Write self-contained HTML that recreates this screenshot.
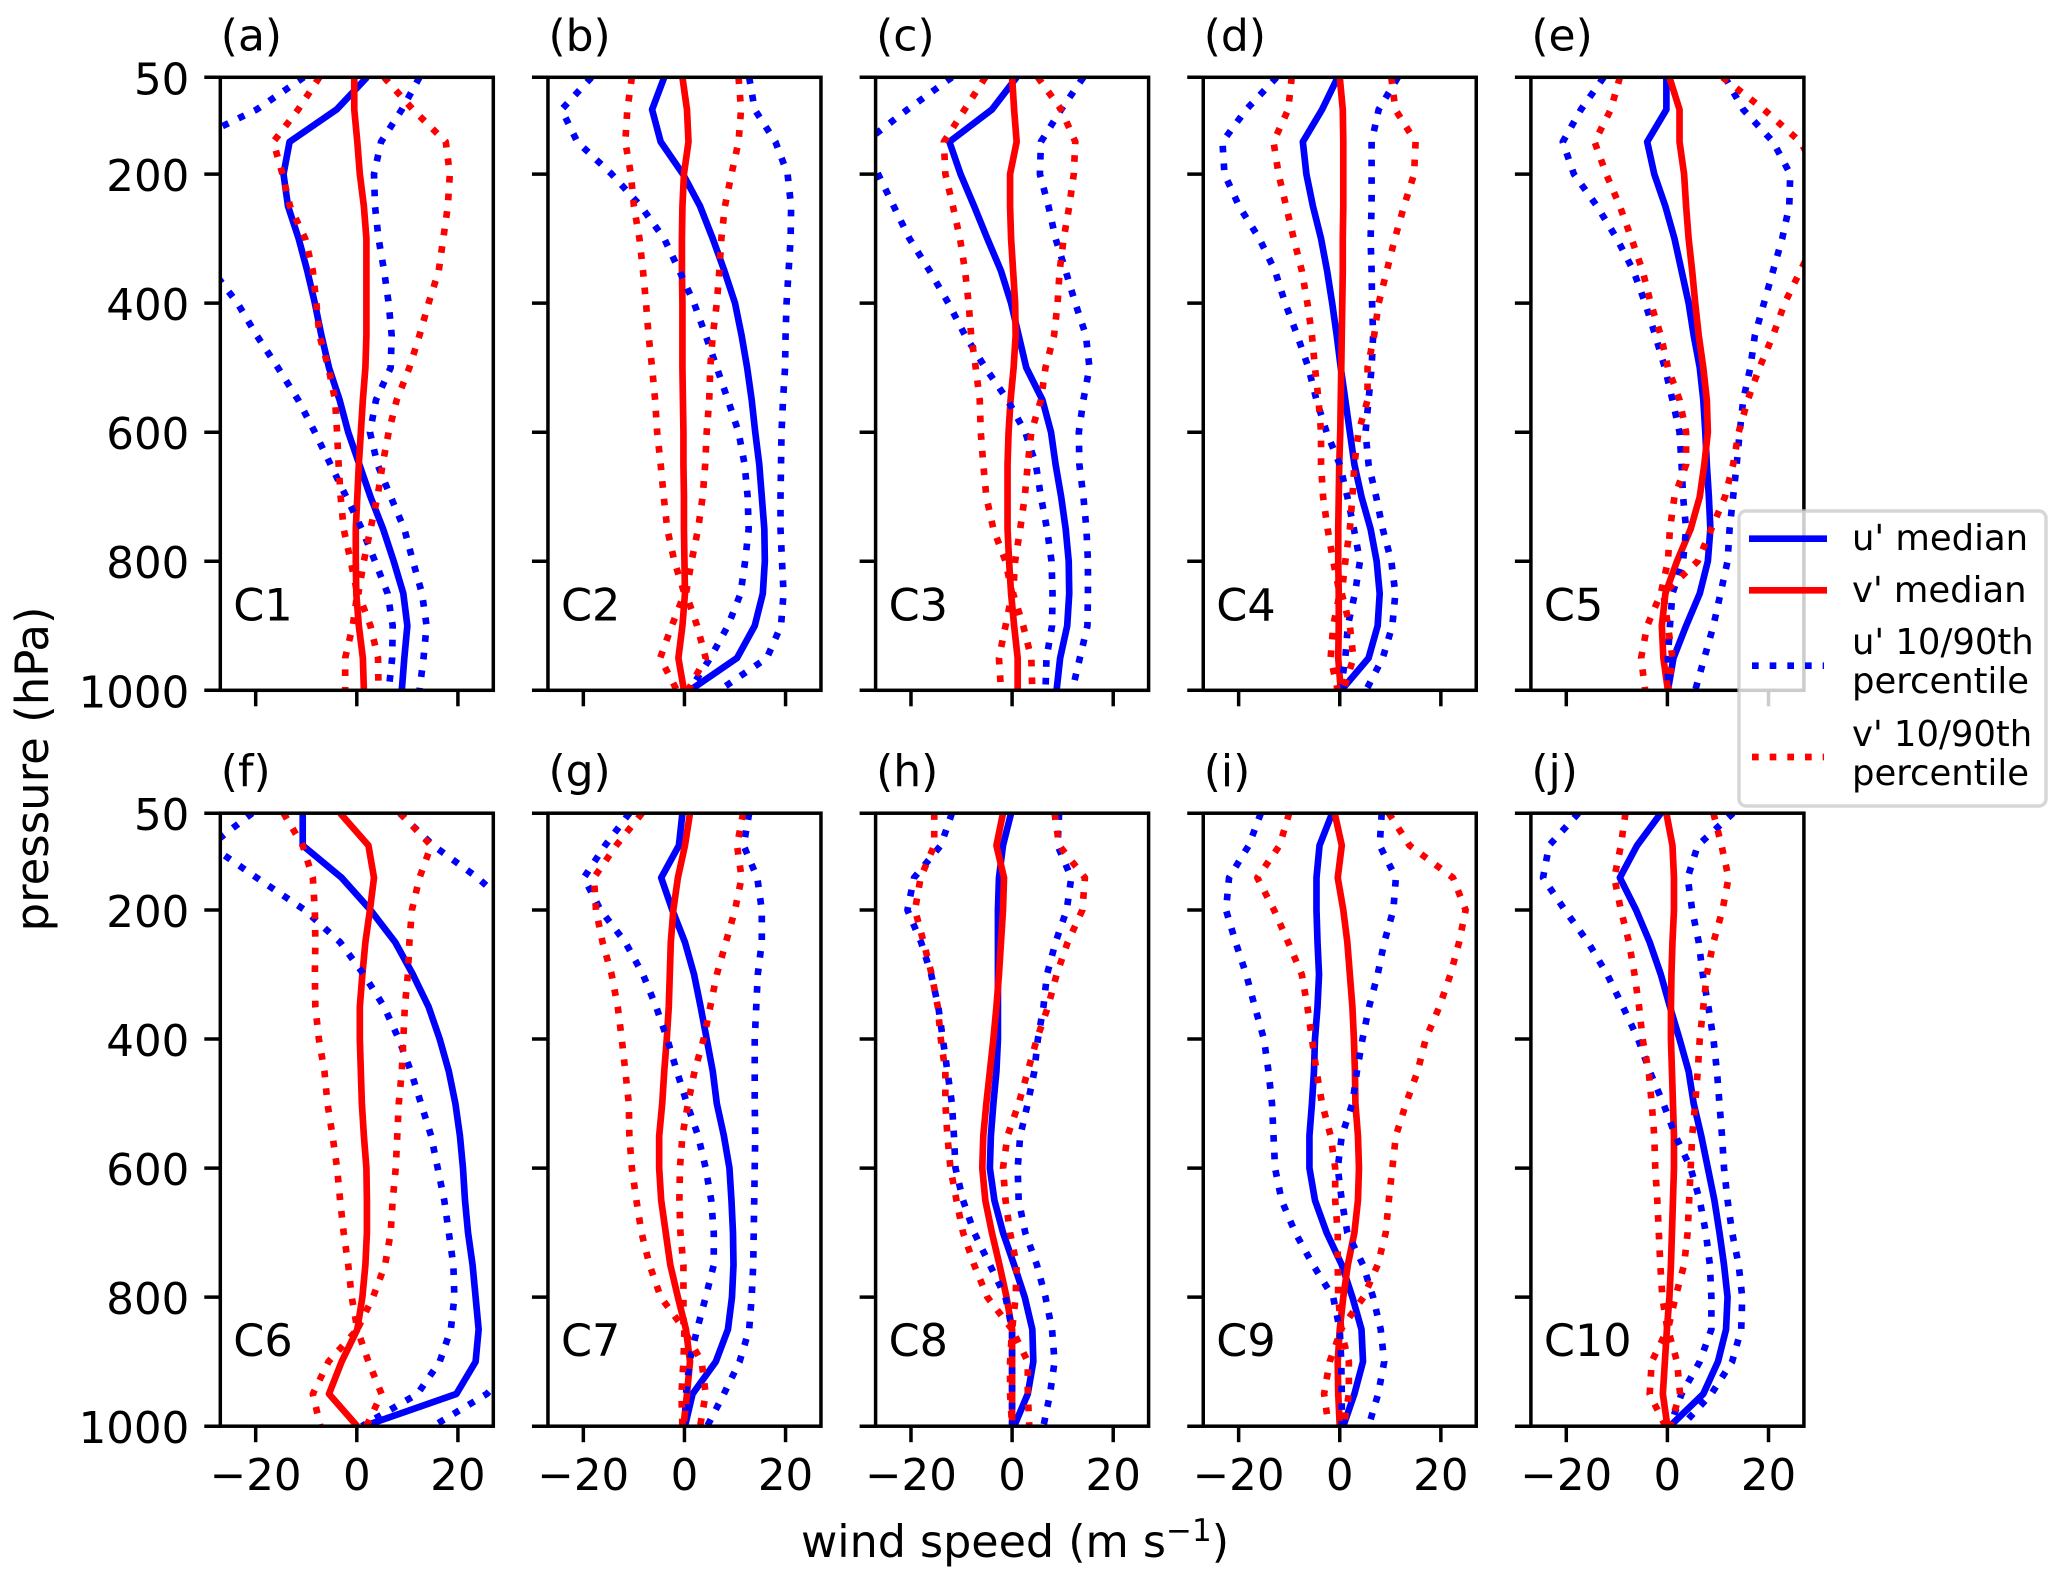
<!DOCTYPE html>
<html lang="en">
<head>
<meta charset="utf-8">
<title>Wind speed percentile profiles</title>
<style>
html,body{margin:0;padding:0;background:#fff;}
svg{display:block;}
text{font-family:"DejaVu Sans","Liberation Sans",sans-serif;fill:#000;}
</style>
</head>
<body>
<svg id="chart" xmlns="http://www.w3.org/2000/svg" width="2067" height="1584" viewBox="0 0 2067 1584">
  <defs id="clips"></defs>
  <g id="panels"></g>
  <text x="1015" y="1557" font-size="44.4" text-anchor="middle">wind speed (m s<tspan dy="-16" font-size="31">−1</tspan><tspan dy="16">)</tspan></text>
  <text transform="translate(48,769) rotate(-90)" font-size="45" text-anchor="middle">pressure (hPa)</text>
  <g>
    <rect x="1739" y="511" width="307" height="295" rx="7" ry="7" fill="#fff" fill-opacity="0.8" stroke="#ccc" stroke-opacity="0.8" stroke-width="3.4"/>
    <line x1="1749" y1="538.7" x2="1827" y2="538.7" stroke="#0000ff" stroke-width="6.67"/>
    <text x="1852" y="550" font-size="35.4">u' median</text>
    <line x1="1749" y1="590.3" x2="1827" y2="590.3" stroke="#ff0000" stroke-width="6.67"/>
    <text x="1852" y="602" font-size="35.4">v' median</text>
    <line x1="1752" y1="665.7" x2="1824" y2="665.7" stroke="#0000ff" stroke-width="6.67" stroke-dasharray="6.67 11"/>
    <text x="1852" y="654" font-size="35.4">u' 10/90th</text>
    <text x="1852" y="693" font-size="35.4">percentile</text>
    <line x1="1752" y1="757" x2="1824" y2="757" stroke="#ff0000" stroke-width="6.67" stroke-dasharray="6.67 11"/>
    <text x="1852" y="746" font-size="35.4">v' 10/90th</text>
    <text x="1852" y="785" font-size="35.4">percentile</text>
  </g>
</svg>
<script>
const levels = [50,100,150,200,250,300,350,400,450,500,550,600,650,700,750,800,850,900,950,1000];
const panelLetters = ['(a)','(b)','(c)','(d)','(e)','(f)','(g)','(h)','(i)','(j)'];
const clusterNames = ['C1','C2','C3','C4','C5','C6','C7','C8','C9','C10'];
const xTickValues = [-20,0,20];
const xTickLabels = ['−20','0','20'];
const yTickValues = [50,200,400,600,800,1000];
const yTickLabels = ['50','200','400','600','800','1000'];

const uMedian = [
 [2,-4,-13.3,-14.5,-13.6,-11.5,-9.8,-8.3,-7,-5.5,-3.4,-1.7,.5,2.7,5.2,7.3,9.2,10,9.4,8.9],
 [-4,-6.4,-4.7,-.3,3.1,5.6,7.9,10,11.3,12.4,13.3,14,14.8,15.3,15.8,15.9,15.5,13.9,10.4,1.1],
 [.9,-4,-12.4,-10.2,-7.5,-4.9,-2.2,-.2,1.3,2.8,6,7.7,8.6,9.7,10.6,11.2,11.3,10.9,9.5,8.8],
 [-.4,-3.5,-7.3,-6.6,-5.3,-3.7,-2.5,-1.5,-.6,.2,1.1,2,2.9,4.3,6.1,7.3,7.9,7.5,5.7,.3],
 [-.2,-.2,-4,-2.6,-.4,1.4,2.8,4.2,5.2,6.4,7.1,7.5,7.8,8.2,8.5,8,6.4,3.7,1.2,.1],
 [-10.7,-10.7,-3,2.7,7.6,11.1,14.2,16.4,18.2,19.5,20.4,21,21.4,22,22.9,23.5,24.1,23.5,19.7,1.4],
 [-.4,-1.1,-4.6,-2.4,.1,1.9,3.2,4.4,5.6,6.4,7.8,8.9,9.3,9.6,9.7,9.4,8.6,6.2,1.6,.1],
 [-.2,-1.8,-2.6,-2.8,-2.8,-2.8,-2.8,-2.8,-3.1,-3.7,-4.2,-4.4,-3.5,-1.8,.4,2.5,4,4.2,3.1,.4],
 [-1.5,-4,-4.6,-4.6,-4.4,-4.1,-4.4,-4.9,-5.1,-5.5,-6,-6,-4.9,-2.6,.4,2.5,4.3,4.6,2.9,.7],
 [-1.3,-6,-9.4,-6.2,-3.5,-1.3,.5,2.4,4.2,5.2,6.7,8,9.3,10.3,11.2,11.9,11.6,10,7.1,.5]
];
const vMedian = [
 [-.5,-.5,.1,.6,1.4,1.9,1.9,1.9,1.9,1.7,1.2,.8,.4,.1,-.2,-.2,-.1,.4,1.2,1.4],
 [-.4,.5,.8,-.1,-.4,-.5,-.5,-.4,-.4,-.4,-.3,-.2,-.2,-.1,-.1,0,.1,-.4,-1.2,-.1],
 [0,.4,.9,-.4,-.4,-.2,.2,.6,.7,.3,-.3,-.7,-.9,-.9,-.9,-.6,-.2,.4,1.1,1.1],
 [0,.6,.7,.7,.7,.6,.6,.5,.4,.3,.2,.1,-.1,-.2,-.3,-.3,-.2,-.2,-.3,.2],
 [.4,2.4,2.4,3.3,3.7,4.2,4.9,5.5,6.2,7.1,7.8,8,7.3,6.4,4.6,1.9,-.4,-1.1,-.8,.1],
 [-3.3,2.3,3.4,2.6,1.7,1.1,.6,.6,.8,1,1.4,1.9,2,2,1.7,1.1,.1,-3,-5.5,.1],
 [1.1,.1,-1.3,-2.2,-2.7,-2.9,-3.1,-3.5,-4,-4.4,-5,-5,-4.6,-3.7,-2.8,-1.3,.3,1.1,.5,-.2],
 [-1.8,-3.1,-1.6,-1.8,-2.2,-2.6,-3.1,-3.7,-4.4,-5.1,-5.7,-5.9,-5.3,-4,-2.5,-1.1,0,0,0,0],
 [-1,.4,-.4,.7,1.5,2,2.5,2.8,3,3.1,3.6,3.8,3.6,2.9,1.6,.7,0,-.4,-.3,0],
 [-.2,1,1.3,1.3,1,.8,.7,.7,.9,1.1,1.3,1.3,1.1,.9,.7,.4,-.1,-.5,-.9,0]
];
const uLow = [
 [-10.5,-19.8,-33,-36,-36,-33,-28.5,-23.6,-19.8,-15.6,-11.6,-8.3,-5.2,-2.1,1,3.6,6.1,7.1,7,6.3],
 [-18.4,-24.3,-21.2,-14.4,-8.6,-4,-1,1.9,4.2,6.4,8.6,10.7,11.9,12.5,12.7,12,11.1,8.6,5.1,1],
 [-11.9,-20.7,-29,-26.5,-23.4,-20.3,-16.3,-12.6,-9.3,-5.3,-.9,2.6,4.7,5.7,6.9,7.8,8,7.9,6.8,6.6],
 [-12.5,-18.5,-23.2,-22.8,-19.9,-15.9,-12.8,-10.8,-8.4,-6.2,-4.6,-2.6,0,1.5,2.8,4,3,1.6,1.1,.2],
 [-12.6,-17.1,-20.7,-18.5,-13.9,-10,-6.7,-4.4,-2.4,-.5,1,2.4,2.8,3.1,3.7,3.1,1,.5,.1,.1],
 [-20.7,-29,-19.8,-10.3,-3.3,1.4,5.4,8.3,10.7,12.7,14.7,16,17.3,18.2,19.1,19.3,18.6,16.4,12,1],
 [-10.9,-15.7,-19.9,-16.6,-11.7,-8.2,-5.6,-3.4,-1.5,.5,2.7,4.2,5.3,5.8,5.8,4.2,2.5,1,.3,.1],
 [-11.9,-14.1,-19.4,-20.7,-18,-16,-14.6,-13.7,-12.8,-11.9,-11.5,-11.2,-9.7,-7.5,-4.4,-1.3,0,0,0,0],
 [-15.6,-18,-21.9,-22.5,-20.6,-18.5,-16.8,-15,-14.1,-13.4,-13.1,-12.8,-11.5,-8.8,-5.3,-1.3,0,.3,.4,.4],
 [-17.6,-23.4,-24.6,-20.3,-15.7,-11.9,-8.8,-5.8,-3.5,-.8,1.6,4.6,6.4,7.6,8.4,8.7,8.7,6.4,2.8,.5]
];
const uHigh = [
 [12.4,8.9,4.8,3.4,3.6,4.3,5.4,6.3,6.9,6.7,3.8,2.6,4.1,6.7,9.4,11.1,12.9,13.8,13.2,12.4],
 [12.8,13.9,18,20.4,21.1,21,20.6,20.2,20,19.9,19.5,19.2,19.1,19,19,19.3,19.6,19.1,16.3,6.9],
 [14.1,9.7,5.7,5.5,7.2,8.6,10.6,12.5,14.6,15.3,14.1,13.2,13.3,14.1,14.7,15,15,14.9,13.4,11.9],
 [11.5,7.7,6.3,6.3,6.3,6.1,6.3,6.4,6.6,6.3,5.7,5.1,5.7,7.2,8.5,10.2,11,10.4,8.5,5.2],
 [11.4,15,20.9,24.3,24.1,22.7,20.9,19.1,17.3,16.4,15,14.3,13.7,13,12.3,11.9,10.5,9.1,7.3,5.5],
 [8.5,15.1,23.9,31,34,36,37,38,38,38,38,38,38,38,37,36,35,32,25.7,15.1],
 [12.8,11.7,14.4,15.3,15.3,14.5,14.2,13.9,13.9,13.9,14,13.9,13.8,13.7,13.6,13.3,12.8,10.9,7.8,4.5],
 [9.3,9,11.7,10.8,8.6,6.9,6.2,5.1,4.4,3.1,1.6,1.1,1.3,2.6,4.9,6.6,7.9,8.4,7.5,6.2],
 [8.3,7.9,11.1,10.6,8.8,7.5,5.8,4.5,3.4,2.5,.4,-.4,.4,1.5,4.6,6.6,8.1,8.8,7.6,5.7],
 [13,6,4,4.9,6.2,7,8.1,9.1,9.8,10.3,10.8,11.2,11.9,12.8,14.1,14.8,14.6,12.8,8.7,2.8]
];
const vLow = [
 [-7.4,-11.6,-16.5,-14.7,-13.2,-10.2,-8.7,-8,-7.4,-5.6,-4.3,-3.9,-3.6,-3.2,-2.6,-1.2,.1,-.8,-2.3,-2.3],
 [-10.4,-11.3,-11.7,-10.6,-10,-8.9,-8.2,-7.6,-7.1,-6.4,-5.8,-5.4,-4.7,-4.1,-3.4,-2,0,-2.5,-4.8,-1.5],
 [-5.3,-9.4,-13.5,-13.2,-11.7,-10.3,-9.3,-8.6,-8.1,-7.2,-6.4,-6.2,-5.7,-5.1,-3.7,-1.3,0,-1.3,-2.6,-2.2],
 [-9.5,-10.2,-13.1,-12.1,-10.6,-9.1,-7.5,-6.4,-5.5,-4.9,-4.2,-3.7,-3.7,-3.3,-2.4,-1.3,0,-1.3,-1.8,-.4],
 [-9.4,-11.2,-14.4,-12.1,-9.4,-7.1,-4.9,-3.3,-1.3,.1,2.4,3.7,3.7,1.4,.5,.1,-1.3,-4,-5.2,-4.4],
 [-14.5,-10.7,-8.7,-8.3,-8.2,-8.3,-8.2,-7.5,-6.4,-5.8,-4.8,-3.9,-3.3,-2.6,-1.7,-1,.1,-5.6,-8.7,-7.2],
 [-8.4,-13.5,-17.9,-17.5,-16.2,-14.4,-13.2,-12.4,-11.7,-11,-10.9,-10.4,-9.5,-8.5,-6.9,-4.7,0,-.2,-.6,-.4],
 [-15.4,-15.4,-18.1,-19.2,-17.5,-15.9,-14.7,-14.1,-13.2,-13.2,-12.8,-12.2,-11,-9.7,-7.5,-4.9,0,-.4,-.4,0],
 [-10,-11.9,-16.3,-13,-10.2,-7.5,-6.4,-5.5,-4.6,-3.5,-1.8,-.9,-.9,-.4,-.4,-.3,.3,-2,-3.1,-2.2],
 [-8.3,-9.2,-10.5,-9.2,-7.6,-6.5,-5.6,-4.9,-3.7,-3.1,-2.6,-2.4,-2,-1.7,-1.4,-1,0,-3.1,-3.5,-.4]
];
const vHigh = [
 [5.4,11.1,17.6,18.4,18,17.1,16.2,14.2,12.4,10.4,7.9,6.3,5.1,4.1,2.7,1.4,.3,2.7,4.2,4.3],
 [10.7,11.2,10.7,9.3,8,7.3,6.9,6.4,5.6,5.1,4.9,4.4,4.1,3.6,2.7,1.4,.3,2.5,4.2,.7],
 [5.1,9.7,12.5,12.2,11.3,10.2,9.4,9,8.3,6.6,5.7,3.8,3.1,2.5,1.6,.6,.2,2.2,3.8,4],
 [10.2,11,15,14.7,12.7,10.9,9.3,7.7,6.8,5.5,5.5,3.7,2.9,2.5,2,1.1,.4,2,2.7,.7],
 [10.9,19.1,26.3,30,31,29.5,26.3,23.2,20.9,18.2,15.9,14.1,13,11.4,8.7,6,-.8,.1,1,.1],
 [8.6,14.7,12.4,10.9,10.4,10.1,9.5,9.2,8.9,8.3,8,7.7,7.1,6.7,5.6,3.2,.1,2.3,4.9,1.9],
 [11.6,10.4,11.3,10,8.2,6.4,5.1,3.8,2,.7,-.4,-.9,-1,-.8,-.2,-.2,-.2,3.4,4.2,3.1],
 [8.4,9.3,14.4,13.9,11,8.8,7.1,4.9,3.1,1.3,-.9,-1.8,-1.3,-.4,.9,.7,0,3.1,3.1,3.4],
 [9.7,13.8,22.4,24.9,23.6,21.9,19.7,17,15.4,13.1,11.1,10.4,9.7,9.1,7.5,4.7,.2,1.8,1.8,.8],
 [9.1,10.7,12.1,10.9,9.1,7.8,7.1,6.4,6,5.5,4.9,4.6,4.3,4,3.3,1.6,.1,1.9,2.5,.5]
];

const SVG_NS = 'http://www.w3.org/2000/svg';
const xMin = -27, xMax = 27, pMin = 50, pMax = 1000;
const panelW = 273, panelH = 613, firstLeft = 220.3, colStep = 327.65;
const rowTops = [77.3, 813.2];
const BLUE = '#0000ff', RED = '#ff0000';
const SOLID_W = 6.67, DOTS = '6.67 11', SPINE_W = 3.5, TICK_LEN = 16;
const TICK_SIZE = 43.5, LETTER_SIZE = 44, CLUSTER_SIZE = 44.5;

function panelLeft(i){ return firstLeft + (i % 5) * colStep; }
function panelTop(i){ return rowTops[Math.floor(i / 5)]; }
function xScale(i, v){ return panelLeft(i) + (v - xMin) / (xMax - xMin) * panelW; }
function yScale(i, p){ return panelTop(i) + (p - pMin) / (pMax - pMin) * panelH; }

function make(tag, attrs, parent){
  const el = document.createElementNS(SVG_NS, tag);
  for (const k in attrs) el.setAttribute(k, attrs[k]);
  parent.appendChild(el);
  return el;
}

const host = document.getElementById('panels');
const defs = document.getElementById('clips');

function drawSeries(g, i, values, color, dotted, name){
  const pts = levels.map(function(p, k){
    return xScale(i, values[i][k]).toFixed(2) + ',' + yScale(i, p).toFixed(2);
  }).join(' ');
  const attrs = {points: pts, fill: 'none', stroke: color, 'stroke-width': SOLID_W, 'stroke-linejoin': 'round'};
  if (dotted) attrs['stroke-dasharray'] = DOTS;
  const line = make('polyline', attrs, g);
  
  
}

for (let i = 0; i < 10; i++) {
  const L = panelLeft(i), T = panelTop(i);
  const g = make('g', {}, host);
  
  

  const clip = make('clipPath', {id: 'clip' + i}, defs);
  make('rect', {x: L, y: T, width: panelW, height: panelH}, clip);

  const plot = make('g', {'clip-path': 'url(#clip' + i + ')'}, g);
  
  
  drawSeries(plot, i, uMedian, BLUE, false, 'u-median-line');
  drawSeries(plot, i, vMedian, RED, false, 'v-median-line');
  drawSeries(plot, i, uLow, BLUE, true, 'u-10th-percentile-line');
  drawSeries(plot, i, uHigh, BLUE, true, 'u-90th-percentile-line');
  drawSeries(plot, i, vLow, RED, true, 'v-10th-percentile-line');
  drawSeries(plot, i, vHigh, RED, true, 'v-90th-percentile-line');

  const frame = make('rect', {x: L, y: T, width: panelW, height: panelH, fill: 'none', stroke: '#000', 'stroke-width': SPINE_W}, g);
  
  

  xTickValues.forEach(function(v, k){
    const x = xScale(i, v);
    const tick = make('line', {x1: x, y1: T + panelH, x2: x, y2: T + panelH + TICK_LEN, stroke: '#000', 'stroke-width': SPINE_W}, g);
    
    
    if (i >= 5) {
      const lab = make('text', {x: x, y: T + panelH + 64, 'font-size': TICK_SIZE, 'text-anchor': 'middle'}, g);
      lab.textContent = xTickLabels[k];
      
      
    }
  });

  yTickValues.forEach(function(p, k){
    const y = yScale(i, p);
    const tick = make('line', {x1: L - TICK_LEN, y1: y, x2: L, y2: y, stroke: '#000', 'stroke-width': SPINE_W}, g);
    
    
    if (i % 5 === 0) {
      const lab = make('text', {x: L - 31, y: y + 17, 'font-size': TICK_SIZE, 'text-anchor': 'end'}, g);
      lab.textContent = yTickLabels[k];
      
      
    }
  });

  const title = make('text', {x: L + 0.5, y: T - 27, 'font-size': LETTER_SIZE}, g);
  title.textContent = panelLetters[i];
  
  

  const cl = make('text', {x: L + 13, y: T + panelH - 70, 'font-size': CLUSTER_SIZE}, g);
  cl.textContent = clusterNames[i];
  
  
}
</script>
</body>
</html>
